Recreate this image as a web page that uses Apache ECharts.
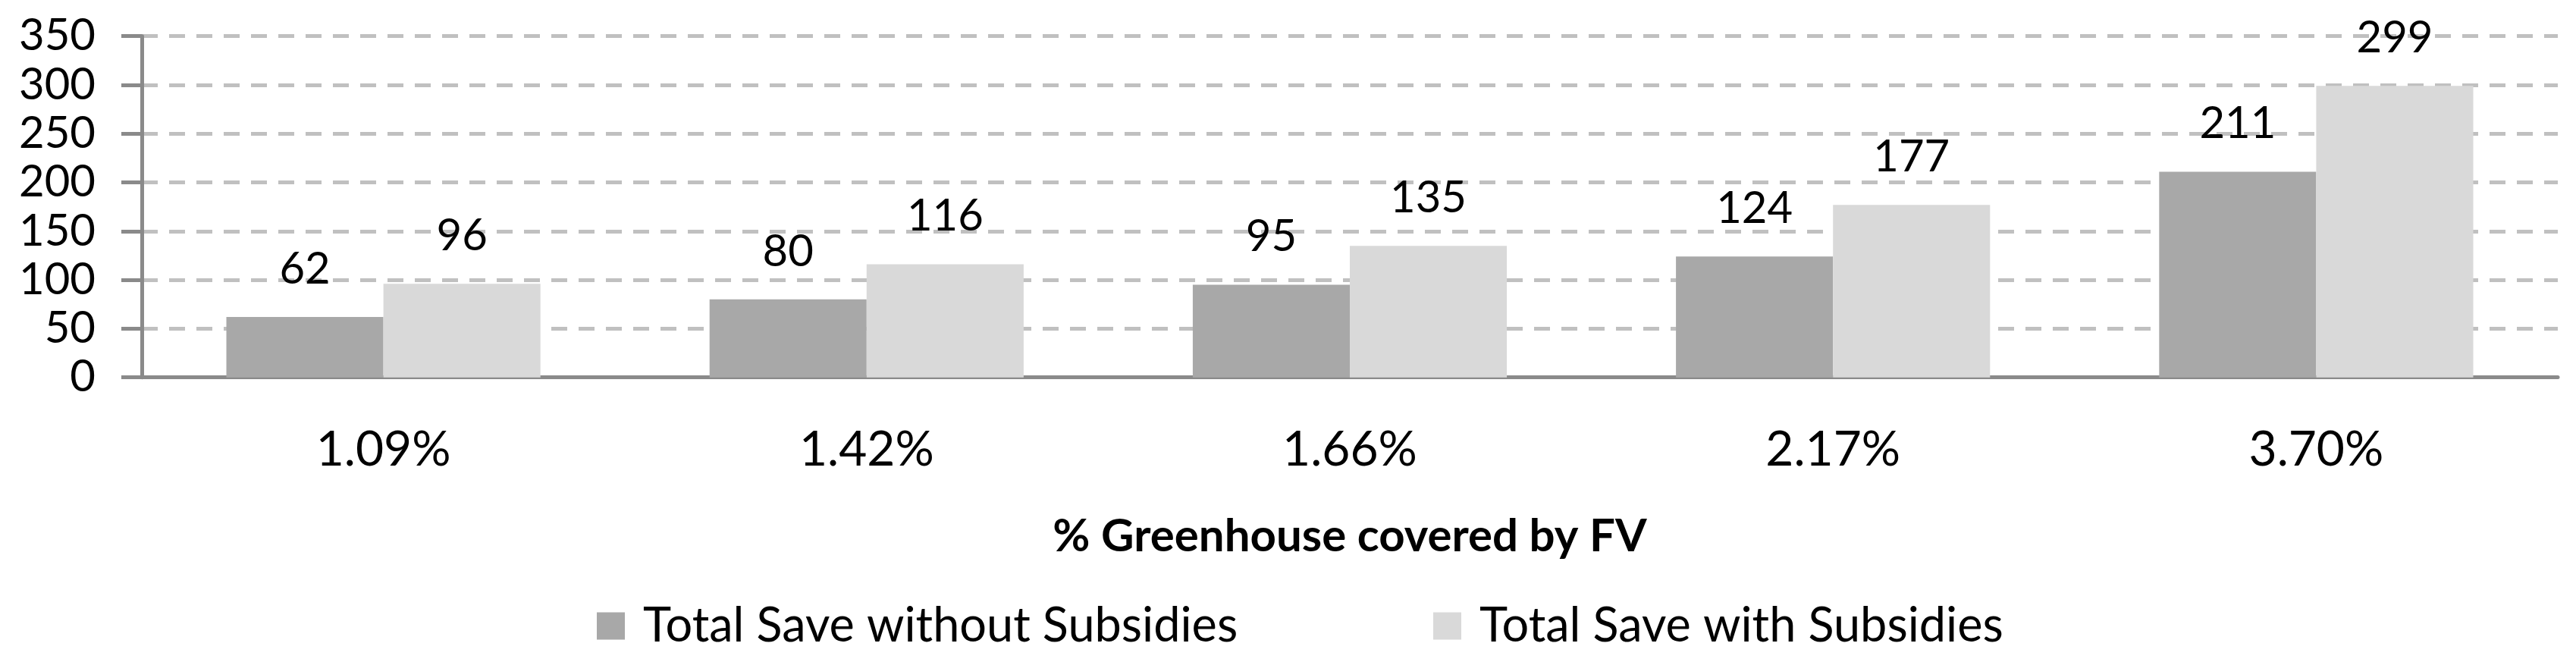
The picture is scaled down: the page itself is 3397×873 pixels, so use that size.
<!DOCTYPE html>
<html>
<head>
<meta charset="utf-8">
<script src="https://cdn.jsdelivr.net/npm/echarts@6/dist/echarts.min.js"></script>
<style>
html,body{margin:0;padding:0;background:#fff;}
#c{width:3397px;height:873px;}
</style>
</head>
<body>
<div id="c"></div>
<script>
const categories = ['1.09%', '1.42%', '1.66%', '2.17%', '3.70%'];
const seriesNames = ['Total Save without Subsidies', 'Total Save with Subsidies'];
const withoutSubsidies = [62, 80, 95, 124, 211];
const withSubsidies = [96, 116, 135, 177, 299];
const yMin = 0, yMax = 350, yInterval = 50;
const xAxisTitle = '% Greenhouse covered by FV';

const FONT = 'Lato';
const chart = echarts.init(document.getElementById('c'));
const legendCommon = {
  top: 789,
  itemWidth: 37,
  itemHeight: 36,
  icon: 'rect',
  textStyle: { fontFamily: FONT, fontSize: 63, color: '#000', padding: [0, 0, 0, 19] }
};
chart.setOption({
  animation: false,
  backgroundColor: '#ffffff',
  textStyle: { fontFamily: FONT },
  grid: { left: 187, right: 24, top: 47.7, bottom: 375.3, containLabel: false },
  legend: [
    Object.assign({ data: [seriesNames[0]], left: 782 }, legendCommon),
    Object.assign({ data: [seriesNames[1]], left: 1885 }, legendCommon)
  ],
  xAxis: {
    type: 'category',
    data: categories,
    name: xAxisTitle,
    nameLocation: 'middle',
    nameGap: 180,
    nameTextStyle: { fontFamily: FONT, fontSize: 60, fontWeight: 'bold', color: '#000' },
    axisLine: { show: true, lineStyle: { color: '#8a8a8a', width: 5 } },
    axisTick: { show: false },
    axisLabel: { margin: 64, fontFamily: FONT, fontSize: 64, color: '#000' },
    splitLine: { show: false }
  },
  yAxis: {
    type: 'value',
    min: yMin, max: yMax, interval: yInterval,
    axisLine: { show: true, lineStyle: { color: '#8a8a8a', width: 5 } },
    axisTick: { show: true, length: 27, lineStyle: { color: '#8a8a8a', width: 5 } },
    axisLabel: { margin: 61, fontFamily: FONT, fontSize: 58, color: '#000' },
    splitLine: { show: true, lineStyle: { color: '#c0c0c0', width: 5, type: [21, 15] } }
  },
  series: [
    {
      name: seriesNames[0], type: 'bar', data: withoutSubsidies,
      barGap: '0%', barCategoryGap: '35%',
      itemStyle: { color: '#a8a8a8' },
      label: { show: true, position: 'top', distance: 34, fontFamily: FONT, fontSize: 58, color: '#000' }
    },
    {
      name: seriesNames[1], type: 'bar', data: withSubsidies,
      barGap: '0%', barCategoryGap: '35%',
      itemStyle: { color: '#d9d9d9' },
      label: { show: true, position: 'top', distance: 34, fontFamily: FONT, fontSize: 58, color: '#000' }
    }
  ]
});
</script>
</body>
</html>
